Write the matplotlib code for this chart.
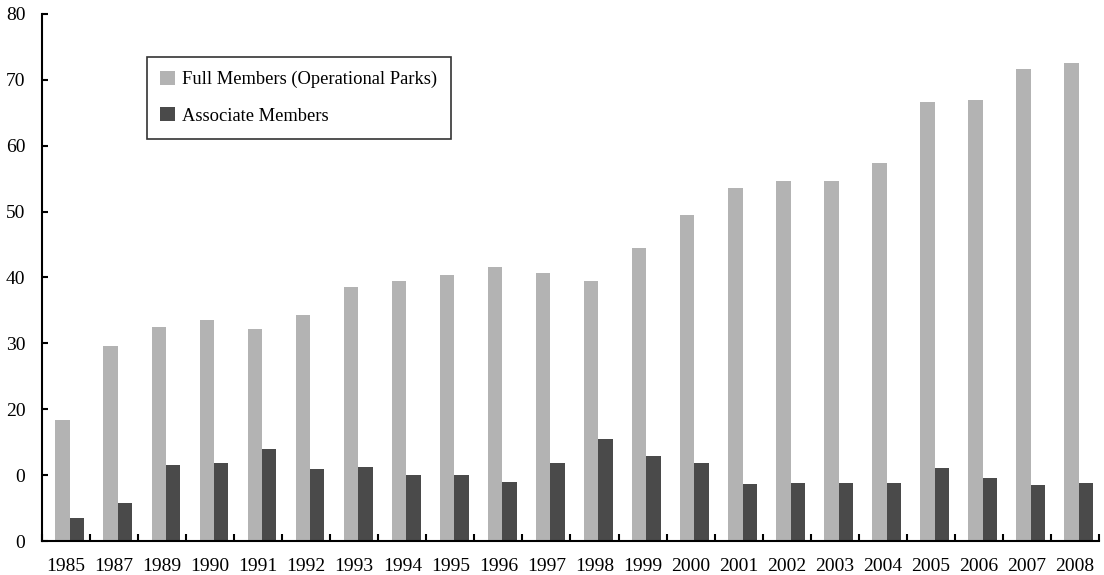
import numpy as np
import matplotlib
matplotlib.use('Agg')
from matplotlib import pyplot as plt
from matplotlib.patches import Patch

years = ['1985', '1987', '1989', '1990', '1991', '1992', '1993', '1994', '1995', '1996', '1997',
         '1998', '1999', '2000', '2001', '2002', '2003', '2004', '2005', '2006', '2007', '2008']
full_members = [18.4, 29.6, 32.5, 33.5, 32.2, 34.3, 38.5, 39.4, 40.4, 41.6, 40.6,
                39.4, 44.5, 49.4, 53.5, 54.6, 54.6, 57.4, 66.6, 66.9, 71.7, 72.5]
associate_members = [3.5, 5.8, 11.5, 11.8, 14.0, 10.9, 11.2, 10.0, 10.0, 9.0, 11.9,
                     15.5, 12.9, 11.9, 8.7, 8.8, 8.8, 8.8, 11.1, 9.6, 8.5, 8.8]
y_ticks = [0, 10, 20, 30, 40, 50, 60, 70, 80]
y_tick_labels = ['0', '0', '20', '30', '40', '50', '60', '70', '80']

light = '#b3b3b3'
dark = '#4a4a4a'

plt.rcParams['font.family'] = ['Liberation Serif', 'DejaVu Serif']

fig = plt.figure(figsize=(11.04, 5.75), dpi=100)
ax = fig.add_axes([0.038, 0.059, 0.9575, 0.917])

x = np.arange(len(years))
w = 0.30
shift = 0.08
ax.bar(x + shift - w / 2, full_members, width=w, color=light, edgecolor='none')
ax.bar(x + shift + w / 2, associate_members, width=w, color=dark, edgecolor='none')

ax.set_xlim(-0.5, len(years) - 0.5)
ax.set_ylim(0, 80)

# category boundary ticks, labels at centres
ax.set_xticks(np.arange(len(years) + 1) - 0.5)
ax.set_xticklabels([])
ax.set_xticks(x, minor=True)
ax.set_xticklabels(years, minor=True, fontsize=14)
ax.tick_params(axis='x', which='major', direction='in', length=5, width=1.5)
ax.tick_params(axis='x', which='minor', length=0, pad=12)

ax.set_yticks(y_ticks)
ax.set_yticklabels(y_tick_labels, fontsize=14)
ax.tick_params(axis='y', direction='in', length=4, width=1.5, pad=12)

for s in ['top', 'right']:
    ax.spines[s].set_visible(False)
for s in ['left', 'bottom']:
    ax.spines[s].set_linewidth(1.5)
    ax.spines[s].set_color('black')

handles = [Patch(facecolor=light, edgecolor='none', label='Full Members (Operational Parks)'),
           Patch(facecolor=dark, edgecolor='none', label='Associate Members')]
leg = ax.legend(handles=handles, loc='upper left', bbox_to_anchor=(0.099, 0.918),
                borderaxespad=0, fontsize=13.3, frameon=True, fancybox=False,
                edgecolor='black', handlelength=0.8, handleheight=0.8,
                handletextpad=0.35, labelspacing=1.02, borderpad=0.75)
leg.get_frame().set_linewidth(1.2)

fig.savefig('out.png', dpi=100)
